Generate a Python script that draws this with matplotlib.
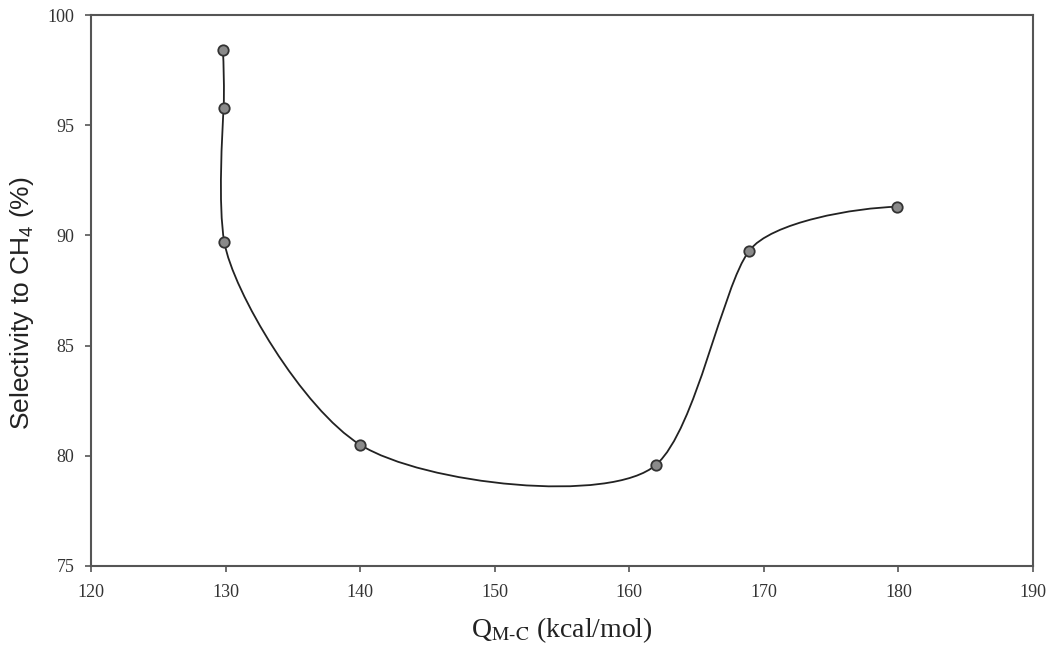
import matplotlib
matplotlib.use("Agg")
import matplotlib.pyplot as plt
import numpy as np
from matplotlib.path import Path
from matplotlib.patches import PathPatch

# heat of adsorption Q(M-C) vs CH4 selectivity
q_mc = [129.8, 129.85, 129.9, 140.0, 162.0, 168.9, 179.9]
selectivity = [98.4, 95.8, 89.7, 80.5, 79.6, 89.3, 91.3]

plt.rcParams['font.family'] = 'Liberation Serif'
plt.rcParams['mathtext.fontset'] = 'custom'
plt.rcParams['mathtext.rm'] = 'Liberation Sans'
plt.rcParams['mathtext.it'] = 'Liberation Sans:italic'

fig = plt.figure(figsize=(10.49, 6.45), dpi=100)
ax = fig.add_axes([0.0868, 0.1225, 0.898, 0.8542])
ax.set_xlim(120, 190)
ax.set_ylim(75, 100)


# parametric cubic spline (centripetal knots) through the points, in screen space
def smooth_path(xs, ys, alpha=0.5, tension=0.7):
    P = ax.transData.transform(np.column_stack([xs, ys]))
    n = len(P)
    h = np.linalg.norm(np.diff(P, axis=0), axis=1) ** alpha
    A = np.zeros((n, n))
    B = np.zeros((n, 2))
    A[0, 0], A[0, 1] = 2, 1
    B[0] = 3 * (P[1] - P[0]) / h[0]
    A[-1, -2], A[-1, -1] = 1, 2
    B[-1] = 3 * (P[-1] - P[-2]) / h[-1]
    for i in range(1, n - 1):
        A[i, i - 1] = h[i]
        A[i, i] = 2 * (h[i - 1] + h[i])
        A[i, i + 1] = h[i - 1]
        B[i] = 3 * (h[i] * (P[i] - P[i - 1]) / h[i - 1]
                    + h[i - 1] * (P[i + 1] - P[i]) / h[i])
    D = np.linalg.solve(A, B) * tension
    verts = [P[0]]
    codes = [Path.MOVETO]
    for i in range(n - 1):
        verts += [P[i] + h[i] * D[i] / 3, P[i + 1] - h[i] * D[i + 1] / 3, P[i + 1]]
        codes += [Path.CURVE4] * 3
    return Path(ax.transData.inverted().transform(np.array(verts)), codes)


ax.add_patch(PathPatch(smooth_path(q_mc, selectivity), facecolor='none',
                       edgecolor='#222222', lw=1.3))
ax.plot(q_mc, selectivity, 'o', color='#8a8a8a', markeredgecolor='#333333',
        markersize=7.5, markeredgewidth=1.3, zorder=3)

ax.set_xticks(range(120, 191, 10))
ax.set_yticks(range(75, 101, 5))

for s in ax.spines.values():
    s.set_color('#555555')
    s.set_linewidth(1.5)
ax.tick_params(direction='out', length=4, width=1.2, color='#555555',
               labelsize=13, labelcolor='#333333')
ax.tick_params(axis='x', pad=9)
ax.tick_params(axis='y', pad=8)

ax.set_xlabel("Q$_{\\mathrm{M\\text{-}C}}$ (kcal/mol)", fontsize=20, color='#222222',
              labelpad=10, math_fontfamily='stix')
ax.set_ylabel("Selectivity to CH$_{\\it 4}$ (%)", fontsize=19, color='#222222',
              family='Liberation Sans')
ax.yaxis.set_label_coords(-0.058, 0.477)

fig.savefig("out.png", dpi=100)
